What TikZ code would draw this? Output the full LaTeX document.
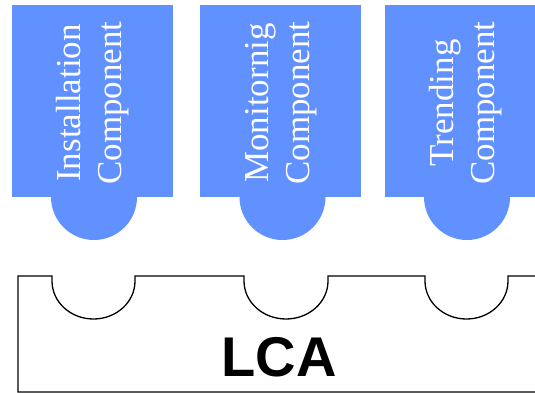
\documentclass[tikz,border=0pt]{standalone}
\usepackage{fontspec}
\setmainfont{Liberation Serif}
\newfontfamily\lcafont{Liberation Sans}
\definecolor{compblue}{RGB}{97,144,255}
\begin{document}
\begin{tikzpicture}[x=1pt,y=-1pt,
  comp/.style={fill=compblue},
  complabel/.style={rotate=90,align=center,text=white,font=\fontsize{35}{41}\selectfont,inner sep=0pt},
  outline/.style={draw=black,line width=1.3pt}]
\useasboundingbox (0,0) rectangle (535,393);
% components
\fill[comp] (12,5) rectangle (173,197);
\fill[comp] (94,197) circle (43);
\fill[comp] (200,5) rectangle (361,197);
\fill[comp] (282.5,197) circle (43);
\fill[comp] (385,5) rectangle (546,197);
\fill[comp] (467,197) circle (43);
\node[complabel] (inst) at (92.5,103) {Installation\\Component};
\node[complabel] (mon) at (281,103) {Monitornig\\Component};
\node[complabel] (trend) at (466,103) {Trending\\Component};
% LCA
\draw[outline] (545,392) -- (18,392) -- (18,276) -- (52,276) -- (52,281)
  arc (180:0:41.5 and 38) -- (135,276) -- (244,276) -- (244,281)
  arc (180:0:42 and 38) -- (328,276) -- (425,276) -- (425,281)
  arc (180:0:41.5 and 38) -- (508,276) -- (545,276);
\node[font=\lcafont\bfseries\fontsize{56}{60}\selectfont,inner sep=0pt] (lca) at (279,357) {LCA};
\end{tikzpicture}
\end{document}
